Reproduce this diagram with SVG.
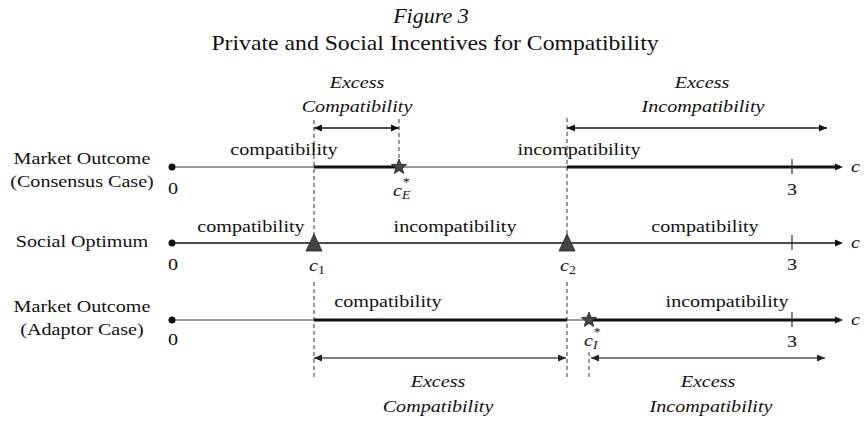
<svg xmlns="http://www.w3.org/2000/svg" xmlns:xlink="http://www.w3.org/1999/xlink" width="865" height="422" viewBox="0 0 865 422">
<style>
  text { font-family: "Liberation Serif", "Times New Roman", serif; font-size: 17.5px; fill: #111; }
  .mid { text-anchor: middle; }
  .it { font-style: italic; }
  .sub { font-size: 12px; }
  .thin { stroke: #777; stroke-width: 1.4; fill: none; }
  .thinb { stroke: #111; stroke-width: 1.3; fill: none; }
  .thick { stroke: #111; stroke-width: 3; fill: none; }
  .dash { stroke: #333; stroke-width: 1; stroke-dasharray: 4 3; fill: none; }
  .tick { stroke: #333; stroke-width: 1.2; }
  .exb { stroke: #111; stroke-width: 1.5; fill: none; marker-start: url(#ahs); marker-end: url(#ahe); }
  .exg { stroke: #555; stroke-width: 1.5; fill: none; marker-start: url(#ahsg); marker-end: url(#aheg); }
  .mark { fill: #444; stroke: #222; stroke-width: 0.8; }
</style>
<defs>
  <marker id="axis" markerUnits="userSpaceOnUse" markerWidth="10" markerHeight="10" refX="1" refY="5" orient="auto">
    <path d="M0,1.5 L8,5 L0,8.5 Z" fill="#111"/>
  </marker>
  <marker id="ahe" markerUnits="userSpaceOnUse" markerWidth="10" markerHeight="10" refX="8" refY="5" orient="auto">
    <path d="M0,1.5 L8,5 L0,8.5 Z" fill="#111"/>
  </marker>
  <marker id="ahs" markerUnits="userSpaceOnUse" markerWidth="10" markerHeight="10" refX="0" refY="5" orient="auto">
    <path d="M8,1.5 L0,5 L8,8.5 Z" fill="#111"/>
  </marker>
  <marker id="aheg" markerUnits="userSpaceOnUse" markerWidth="10" markerHeight="10" refX="8" refY="5" orient="auto">
    <path d="M0,1.5 L8,5 L0,8.5 Z" fill="#222"/>
  </marker>
  <marker id="ahsg" markerUnits="userSpaceOnUse" markerWidth="10" markerHeight="10" refX="0" refY="5" orient="auto">
    <path d="M8,1.5 L0,5 L8,8.5 Z" fill="#222"/>
  </marker>
  <path id="star" class="mark" d="M0,-8 L2,-2.75 L7.61,-2.47 L3.23,1.05 L4.7,6.47 L0,3.4 L-4.7,6.47 L-3.23,1.05 L-7.61,-2.47 L-2,-2.75 Z"/>
  <path id="tri" class="mark" d="M0,-9 L8,8 L-8,8 Z"/>
</defs>

<g id="title">
  <text class="mid it" style="font-size:21px" transform="translate(431,23) scale(1.05 1)">Figure 3</text>
  <text class="mid" style="font-size:21px" transform="translate(435,50) scale(1.13 1)">Private and Social Incentives for Compatibility</text>
</g>

<g id="guides">
  <path class="dash" d="M314,120 V235 M314,282 V380"/>
  <path class="dash" d="M399,119 V159"/>
  <path class="dash" d="M567,118 V235 M567,282 V380"/>
  <path class="dash" d="M589,352 V380"/>
</g>

<g id="row-consensus">
  <text class="mid" transform="translate(82,164) scale(1.15 1)">Market Outcome</text>
  <text class="mid" transform="translate(82,187) scale(1.15 1)">(Consensus Case)</text>
  <path class="thin" d="M172,167 H836"/>
  <path class="thick" d="M314,167 H399"/>
  <path class="thick" d="M567,167 H836" marker-end="url(#axis)"/>
  <circle cx="172" cy="167" r="3.5" fill="#111"/>
  <line class="tick" x1="792" y1="159" x2="792" y2="174"/>
  <use xlink:href="#star" x="399" y="167"/>
  <text class="mid" transform="translate(284,155) scale(1.15 1)">compatibility</text>
  <text class="mid" transform="translate(579,155) scale(1.15 1)">incompatibility</text>
  <text class="mid" transform="translate(173,194) scale(1.15 1)">0</text>
  <text class="mid" transform="translate(792,195) scale(1.15 1)">3</text>
  <text class="it" transform="translate(851,172) scale(1.15 1)">c</text>
  <text class="it" transform="translate(393,196) scale(1.15 1)">c<tspan class="sub" dy="3">E</tspan><tspan class="sub" dx="-7" dy="-13">*</tspan></text>
</g>

<g id="row-social">
  <text class="mid" transform="translate(82,247) scale(1.15 1)">Social Optimum</text>
  <path class="thinb" d="M172,243 H836" marker-end="url(#axis)"/>
  <circle cx="172" cy="243" r="3.5" fill="#111"/>
  <line class="tick" x1="792" y1="235" x2="792" y2="250"/>
  <use xlink:href="#tri" x="314" y="243"/>
  <use xlink:href="#tri" x="567" y="243"/>
  <text class="mid" transform="translate(251,232) scale(1.15 1)">compatibility</text>
  <text class="mid" transform="translate(455,232) scale(1.15 1)">incompatibility</text>
  <text class="mid" transform="translate(705,232) scale(1.15 1)">compatibility</text>
  <text class="mid" transform="translate(173,270) scale(1.15 1)">0</text>
  <text class="mid" transform="translate(792,270) scale(1.15 1)">3</text>
  <text class="it" transform="translate(851,248) scale(1.15 1)">c</text>
  <text class="it" transform="translate(309,271) scale(1.15 1)">c<tspan class="sub" style="font-style:normal" dy="3">1</tspan></text>
  <text class="it" transform="translate(560,271) scale(1.15 1)">c<tspan class="sub" style="font-style:normal" dy="3">2</tspan></text>
</g>

<g id="row-adaptor">
  <text class="mid" transform="translate(82,312) scale(1.15 1)">Market Outcome</text>
  <text class="mid" transform="translate(82,335) scale(1.15 1)">(Adaptor Case)</text>
  <path class="thin" d="M172,320 H836"/>
  <path class="thick" d="M314,320 H567"/>
  <path class="thick" d="M589,320 H836" marker-end="url(#axis)"/>
  <circle cx="172" cy="320" r="3.5" fill="#111"/>
  <line class="tick" x1="792" y1="312" x2="792" y2="327"/>
  <use xlink:href="#star" x="589" y="320"/>
  <text class="mid" transform="translate(388,307) scale(1.15 1)">compatibility</text>
  <text class="mid" transform="translate(727,307) scale(1.15 1)">incompatibility</text>
  <text class="mid" transform="translate(173,345) scale(1.15 1)">0</text>
  <text class="mid" transform="translate(792,347) scale(1.15 1)">3</text>
  <text class="it" transform="translate(851,325) scale(1.15 1)">c</text>
  <text class="it" transform="translate(584,346) scale(1.15 1)">c<tspan class="sub" dy="3">I</tspan><tspan class="sub" dx="-4" dy="-13">*</tspan></text>
</g>

<g id="connectors">
  <line class="exb" x1="314" y1="128" x2="399" y2="128"/>
  <line class="exb" x1="567" y1="128" x2="827" y2="128"/>
  <line class="exg" x1="314" y1="358" x2="566" y2="358"/>
  <line class="exg" x1="591" y1="358" x2="825" y2="358"/>
</g>

<g id="excess-labels">
  <text class="mid it" transform="translate(357,88) scale(1.15 1)">Excess</text>
  <text class="mid it" transform="translate(357,112) scale(1.15 1)">Compatibility</text>
  <text class="mid it" transform="translate(702,88) scale(1.15 1)">Excess</text>
  <text class="mid it" transform="translate(703,112) scale(1.15 1)">Incompatibility</text>
  <text class="mid it" transform="translate(438,387) scale(1.15 1)">Excess</text>
  <text class="mid it" transform="translate(438,412) scale(1.15 1)">Compatibility</text>
  <text class="mid it" transform="translate(708,387) scale(1.15 1)">Excess</text>
  <text class="mid it" transform="translate(711,412) scale(1.15 1)">Incompatibility</text>
</g>
</svg>
